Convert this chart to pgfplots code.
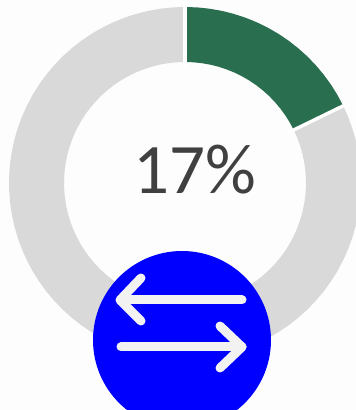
\documentclass[border=0pt]{standalone}
\usepackage{fontspec}
\setmainfont{Carlito}
\usepackage{pgfplots}
\pgfplotsset{compat=1.18}
\definecolor{ringgray}{HTML}{D9D9D9}
\definecolor{ringgreen}{HTML}{2A6E50}
\definecolor{txt}{HTML}{404040}
\definecolor{arrowc}{HTML}{F2F2F2}
\definecolor{bgc}{HTML}{FDFDFD}
\begin{document}
\begin{tikzpicture}
\useasboundingbox (0,0) rectangle (356pt,410pt);
\fill[bgc] (0,0) rectangle (356pt,410pt);
\begin{axis}[
  at={(0,0)}, anchor=south west,
  scale only axis, width=356pt, height=410pt,
  xmin=-185, xmax=171, ymin=-227, ymax=183,
  hide axis, clip=true,
]
% remaining share, clockwise from the end of the highlighted one (radius = ring mid-line)
\addplot[ringgray, line width=55pt, data cs=polar, mark=none, line join=round] coordinates {
(26,148.5)(22,148.5)(18,148.5)(14,148.5)(10,148.5)(6,148.5)(2,148.5)(-2,148.5)(-6,148.5)(-10,148.5)
(-14,148.5)(-18,148.5)(-22,148.5)(-26,148.5)(-30,148.5)(-34,148.5)(-38,148.5)(-42,148.5)(-46,148.5)(-50,148.5)
(-54,148.5)(-58,148.5)(-62,148.5)(-66,148.5)(-70,148.5)(-74,148.5)(-78,148.5)(-82,148.5)(-86,148.5)(-90,148.5)
(-94,148.5)(-98,148.5)(-102,148.5)(-106,148.5)(-110,148.5)(-114,148.5)(-118,148.5)(-122,148.5)(-126,148.5)(-130,148.5)
(-134,148.5)(-138,148.5)(-142,148.5)(-146,148.5)(-150,148.5)(-154,148.5)(-158,148.5)(-162,148.5)(-166,148.5)(-170,148.5)
(-174,148.5)(-178,148.5)(-182,148.5)(-186,148.5)(-190,148.5)(-194,148.5)(-198,148.5)(-202,148.5)(-206,148.5)(-210,148.5)
(-214,148.5)(-218,148.5)(-222,148.5)(-226,148.5)(-230,148.5)(-234,148.5)(-238,148.5)(-242,148.5)(-246,148.5)(-250,148.5)
(-254,148.5)(-258,148.5)(-262,148.5)(-266,148.5)(-270,148.5)
};
% highlighted share
\addplot[ringgreen, line width=55pt, data cs=polar, mark=none, line join=round] coordinates {
(90,148.5)(86,148.5)(82,148.5)(78,148.5)(74,148.5)(70,148.5)(66,148.5)(62,148.5)(58,148.5)
(54,148.5)(50,148.5)(46,148.5)(42,148.5)(38,148.5)(34,148.5)(30,148.5)(26,148.5)
};
% white separators
\addplot[white, line width=3.4pt, data cs=polar, mark=none] coordinates {(90,115)(90,182)};
\addplot[white, line width=3.4pt, data cs=polar, mark=none] coordinates {(26,115)(26,182)};
\node[text=txt, font=\fontsize{71}{71}\selectfont, anchor=center, inner sep=0pt] at (axis cs:10,13) {17\%};
\fill[blue] (axis cs:-3,-157) circle[radius=89];
\begin{scope}[draw=arrowc, line width=9pt, line cap=round, line join=round]
\draw (axis cs:-64,-117) -- (axis cs:57,-117);
\draw (axis cs:-44,-95) -- (axis cs:-65,-117) -- (axis cs:-44,-138);
\draw (axis cs:-64,-164) -- (axis cs:57,-164);
\draw (axis cs:35,-143) -- (axis cs:57,-164) -- (axis cs:35,-185);
\end{scope}
\end{axis}
\end{tikzpicture}
\end{document}
